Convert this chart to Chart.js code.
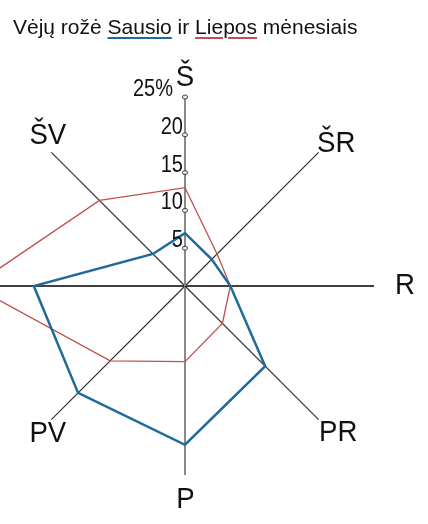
<!DOCTYPE html>
<html>
<head>
<meta charset="utf-8">
<script src="https://cdn.jsdelivr.net/npm/chart.js@4.4.1/dist/chart.umd.min.js"></script>
<style>
  html, body { margin: 0; padding: 0; background: #fff; overflow: hidden; }
  body { width: 428px; height: 524px; position: relative; }
  #title {
    position: absolute; left: 13px; top: 15px; z-index: 2;
    font-family: "Liberation Sans", Arial, sans-serif; font-size: 21px; color: #111;
    white-space: nowrap;
  }
  #title .s { text-decoration: underline; text-decoration-color: #1f6a9b; text-decoration-thickness: 2px; text-underline-offset: 3px; }
  #title .l { text-decoration: underline; text-decoration-color: #c0504d; text-decoration-thickness: 2px; text-underline-offset: 3px; }
  #wrap { position: absolute; left: -4px; top: 0; width: 432px; height: 524px; }
</style>
</head>
<body>
<div id="title">Vėjų rožė <span class="s">Sausio</span> ir <span class="l">Liepos</span> mėnesiais</div>
<div id="wrap"><canvas id="rose" width="432" height="524"></canvas></div>
<script>
// krypciu pavadinimai (pagal laikrodzio rodykle nuo Siaures)
var directions = ["Š", "ŠR", "R", "PR", "P", "PV", "V", "ŠV"];
// vejo pasikartojimas, %
var sausio = [7, 5, 6, 15, 21, 20, 20, 6];
var liepos = [13, 6, 6, 7, 10, 14, 28, 16];
var tickValues = [5, 10, 15, 20, 25];
var tickLabels = ["5", "10", "15", "20", "25%"];

var blue = "#1f6a9b";
var red = "#c0504d";
// nedideli krypciu uzrasu pataisymai (px)
var labelNudge = [[0, 2.5], [2, 7], [9, 0], [4, -2], [0.5, 3], [12, -1], [0, 0], [12, -1.5]];

function axisColor(ctx) {
  var i = ctx.index;
  if (i == 0 || i == 4) return "#8a8a8a";
  if (i == 2 || i == 6) return "#000000";
  return "#333333";
}
function axisWidth(ctx) {
  var i = ctx.index;
  if (i == 0 || i == 4) return 2;
  if (i == 2 || i == 6) return 1.4;
  return 1.2;
}

function narrowText(ctx, text, x, y, sx) {
  ctx.save();
  ctx.translate(x, y);
  ctx.scale(sx, 1);
  ctx.fillText(text, 0, 0);
  ctx.restore();
}

var roseDecor = {
  id: "roseDecor",
  afterDatasetsDraw: function (chart) {
    var r = chart.scales.r;
    var ctx = chart.ctx;
    ctx.save();
    ctx.font = "23px 'Liberation Sans', Arial, sans-serif";
    ctx.fillStyle = "#111";
    ctx.textAlign = "right";
    ctx.textBaseline = "alphabetic";
    tickValues.forEach(function (v, k) {
      var p = r.getPointPosition(0, r.getDistanceFromCenterForValue(v));
      var shift = k == tickValues.length - 1 ? 12 : 2;
      narrowText(ctx, tickLabels[k], p.x - shift, p.y - 1, 0.87);
      ctx.beginPath();
      ctx.ellipse(p.x, p.y, 2.6, 2, 0, 0, Math.PI * 2);
      ctx.fillStyle = "#e8e8e8";
      ctx.fill();
      ctx.lineWidth = 1;
      ctx.strokeStyle = "#444";
      ctx.stroke();
      ctx.fillStyle = "#111";
    });
    ctx.restore();
  },
  afterDraw: function (chart) {
    var r = chart.scales.r;
    var ctx = chart.ctx;
    var d = r.getDistanceFromCenterForValue(25) + 22;
    ctx.save();
    ctx.font = "30px 'Liberation Sans', Arial, sans-serif";
    ctx.fillStyle = "#111";
    ctx.textAlign = "center";
    ctx.textBaseline = "middle";
    directions.forEach(function (name, i) {
      var p = r.getPointPosition(i, d);
      narrowText(ctx, name, p.x + labelNudge[i][0], p.y + labelNudge[i][1], 0.92);
    });
    ctx.restore();
  }
};

var chart = new Chart(document.getElementById("rose").getContext("2d"), {
  type: "radar",
  data: {
    labels: directions,
    datasets: [
      {
        label: "Sausio",
        data: sausio,
        borderColor: blue,
        borderWidth: 2.5,
        fill: false,
        pointRadius: 0,
        tension: 0,
        clip: false
      },
      {
        label: "Liepos",
        data: liepos,
        borderColor: red,
        borderWidth: 1.3,
        fill: false,
        pointRadius: 0,
        tension: 0,
        clip: false
      }
    ]
  },
  options: {
    responsive: false,
    animation: false,
    layout: { padding: { left: 0, right: 54, top: 97, bottom: 49 } },
    plugins: {
      legend: { display: false },
      tooltip: { enabled: false }
    },
    scales: {
      r: {
        min: 0,
        max: 25,
        ticks: { display: false, stepSize: 5 },
        grid: { display: false },
        pointLabels: { display: false },
        angleLines: { display: true, color: axisColor, lineWidth: axisWidth }
      }
    }
  },
  plugins: [roseDecor]
});
</script>
</body>
</html>
